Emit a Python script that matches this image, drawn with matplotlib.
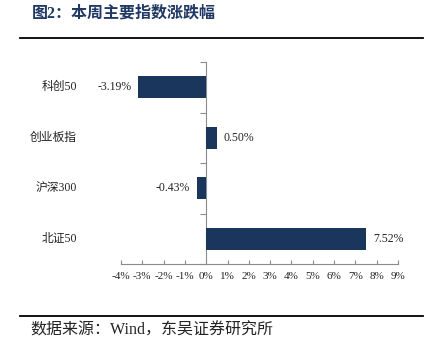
import matplotlib
matplotlib.use("Agg")
from matplotlib import pyplot as plt
from matplotlib.ticker import FixedLocator

plt.rcParams['font.family'] = ['Liberation Serif', 'Noto Sans CJK SC']

indices = ["科创50", "创业板指", "沪深300", "北证50"]
changes = [-3.19, 0.50, -0.43, 7.52]
x_ticks = list(range(-4, 10))
x_labels = ["%d%%" % t for t in x_ticks]

bar_color = "#1b365d"
axis_color = "#8c8c8c"
title_color = "#1f3864"

fig = plt.figure(figsize=(4.35, 3.48), dpi=100)

# header and footer
fig.text(32 / 435, 1 - 14 / 348, "图2：本周主要指数涨跌幅", fontsize=11.5,
         fontweight='bold', color=title_color, va='center', ha='left')
fig.add_artist(plt.Line2D([20 / 435, 423 / 435], [1 - 38 / 348, 1 - 38 / 348],
                          color='black', lw=1.3))
fig.add_artist(plt.Line2D([20 / 435, 423 / 435], [1 - 316 / 348, 1 - 316 / 348],
                          color='black', lw=1.3))
fig.text(30 / 435, 1 - 331 / 348, "数据来源：Wind，东吴证券研究所", fontsize=11.5,
         color='#222222', va='center', ha='left')

ax = fig.add_axes([121 / 435, 84 / 348, 277 / 435, 202 / 348])

pos = list(range(len(indices)))[::-1]
ax.barh(pos, changes, height=0.44, color=bar_color, zorder=3)

for p, v in zip(pos, changes):
    txt = "%.2f%%" % v
    if v < 0:
        ax.annotate(txt, (v, p), xytext=(-5, 0), textcoords='offset points',
                    ha='right', va='center', fontsize=8.5, color='#222222')
    else:
        ax.annotate(txt, (v, p), xytext=(5, 0), textcoords='offset points',
                    ha='left', va='center', fontsize=8.5, color='#222222')

ax.set_xlim(-4, 9)
ax.set_ylim(-0.5, 3.5)

for s in ['top', 'right']:
    ax.spines[s].set_visible(False)
ax.spines['left'].set_position(('data', 0))
ax.spines['left'].set_color(axis_color)
ax.spines['bottom'].set_color(axis_color)
ax.spines['left'].set_linewidth(0.8)
ax.spines['bottom'].set_linewidth(0.8)

ax.set_xticks(x_ticks)
ax.set_xticklabels(x_labels, fontsize=8, color='#222222')
ax.tick_params(axis='x', direction='in', length=3, color=axis_color, pad=6)

# y axis: ticks between categories, labels at far left
ax.yaxis.set_major_locator(FixedLocator([-0.5, 0.5, 1.5, 2.5, 3.5]))
ax.set_yticklabels([])
ax.tick_params(axis='y', direction='out', length=4, color=axis_color)
for p, name in zip(pos, indices):
    ax.text(-0.16, p, name, transform=ax.get_yaxis_transform(),
            ha='right', va='center', fontsize=8.5, color='#222222')

fig.savefig("out.png", dpi=100)
